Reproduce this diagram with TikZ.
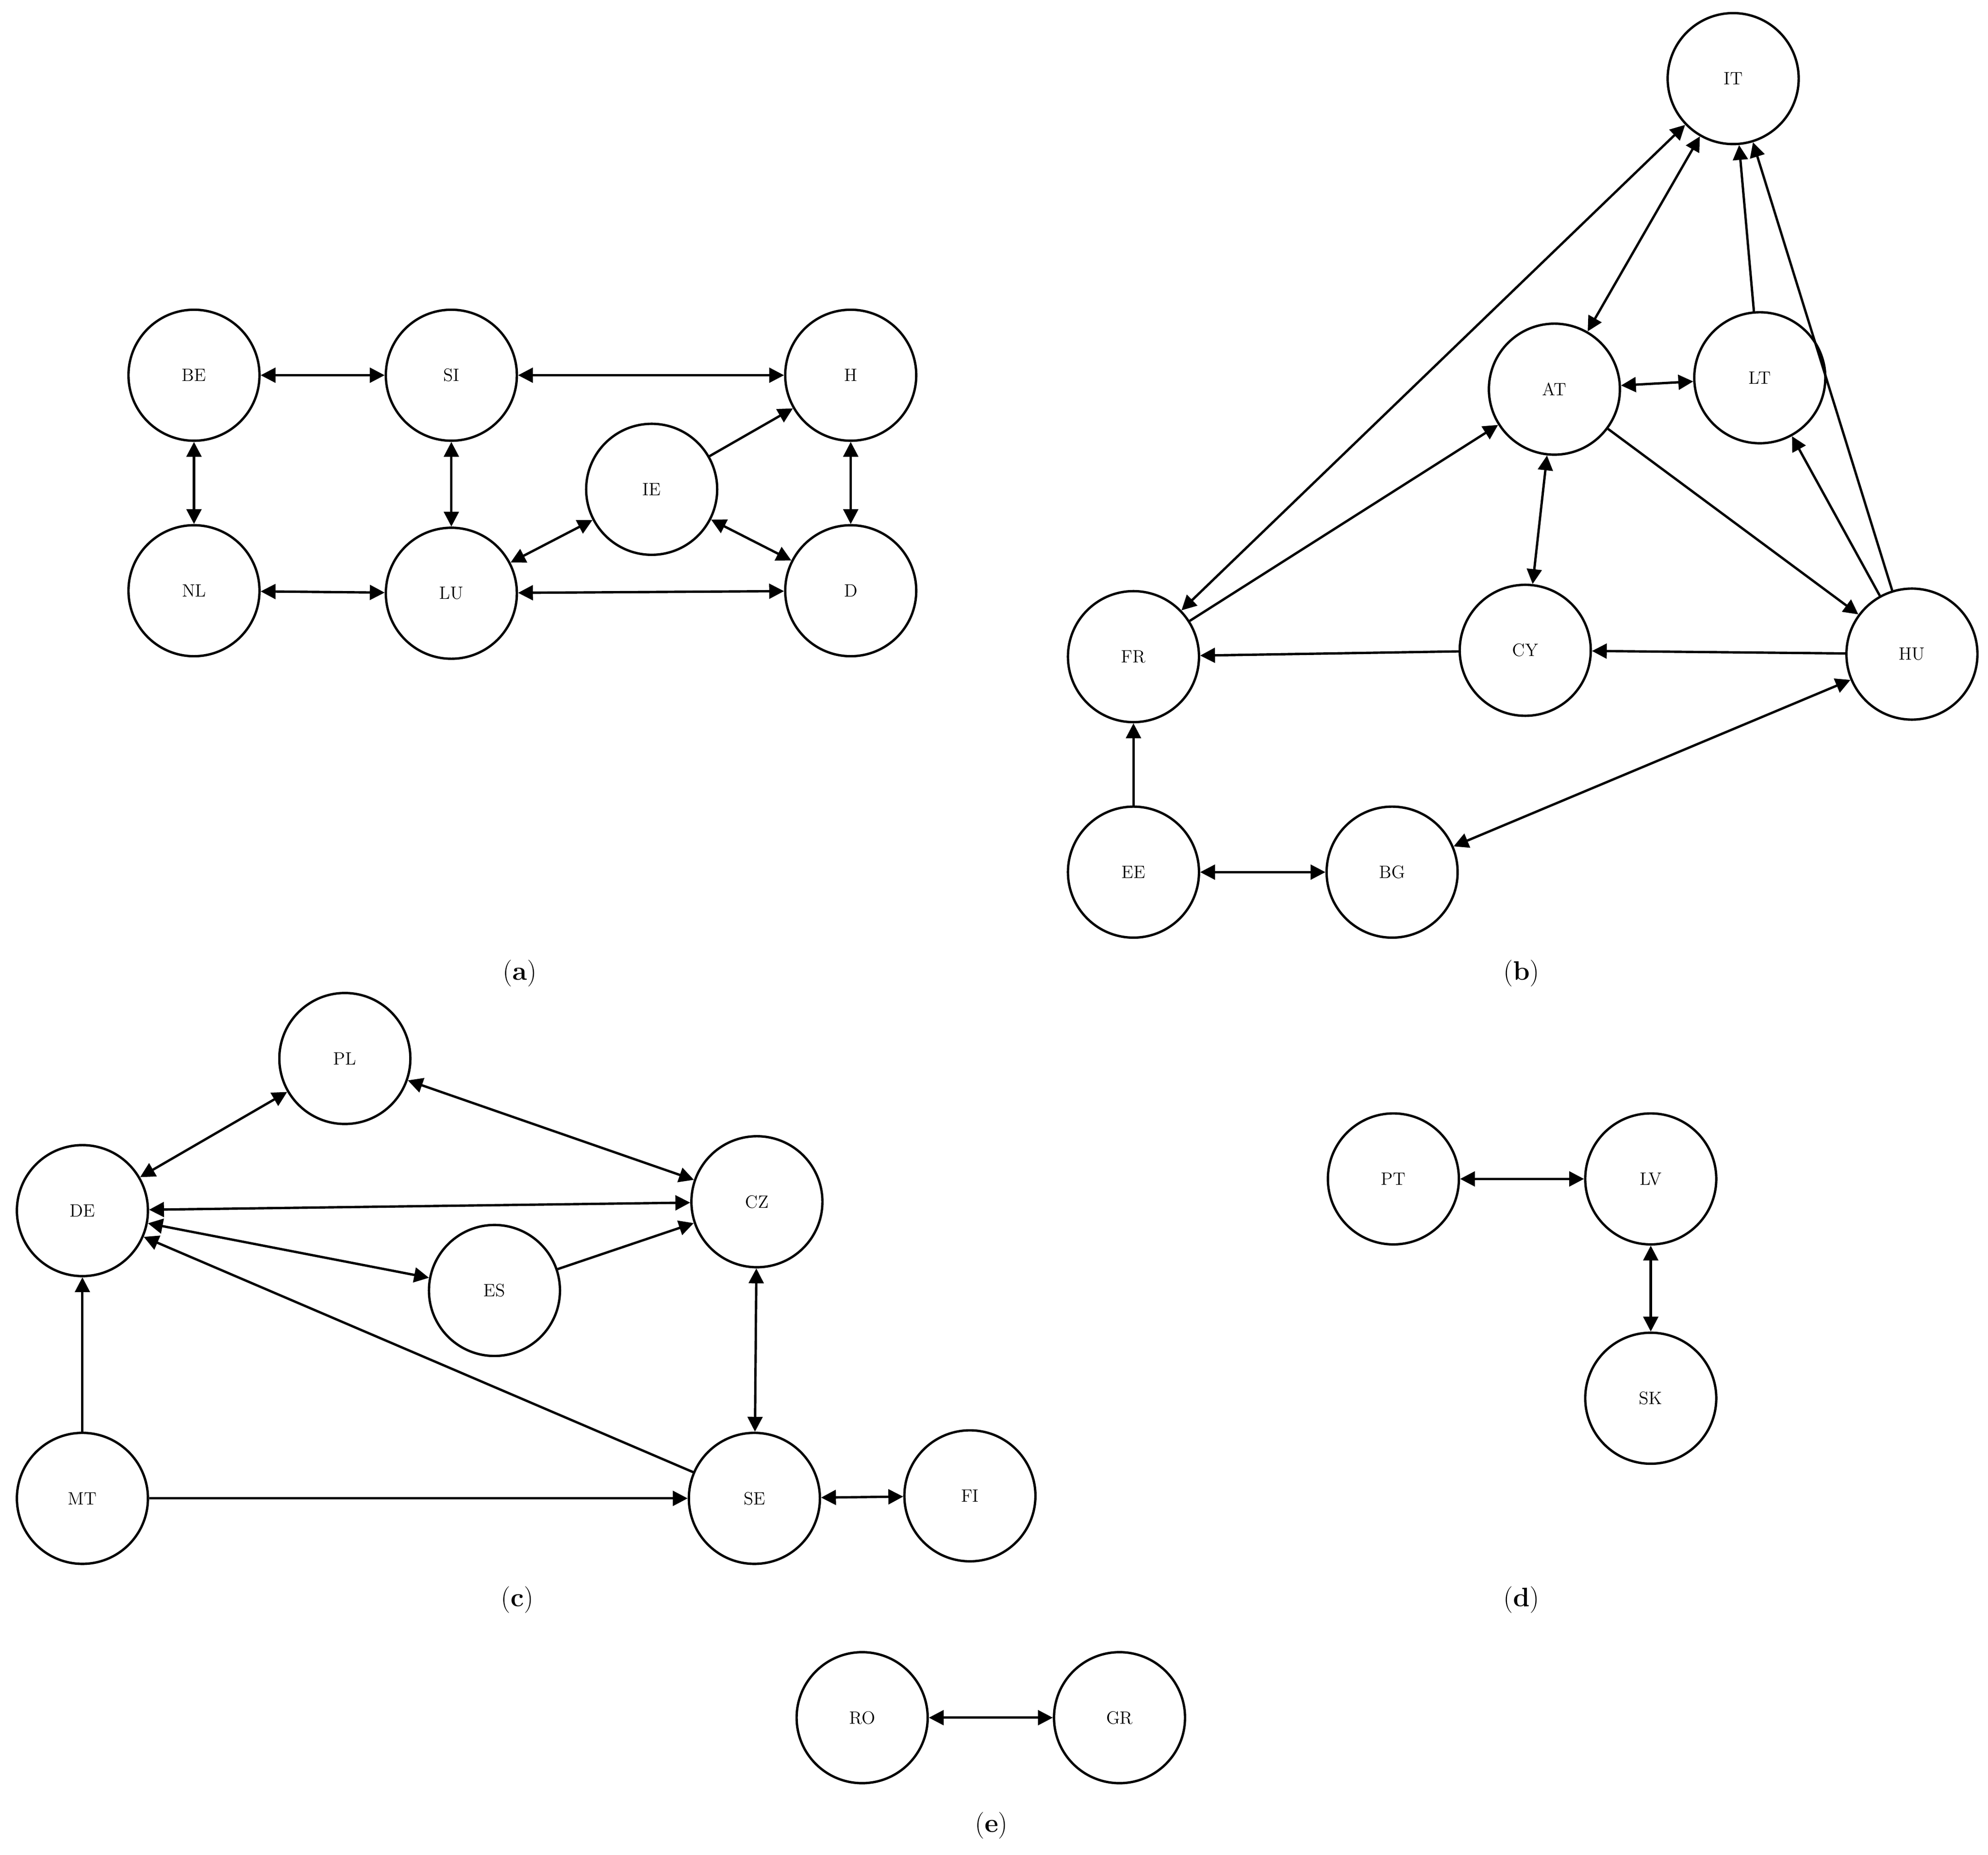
\documentclass[tikz,border=0pt]{standalone}
\usetikzlibrary{arrows.meta}
\begin{document}
\begin{tikzpicture}[x=0.03cm,y=-0.03cm,
 n/.style={circle,draw,line width=1.6pt,minimum size=3.1cm,inner sep=0pt,font=\fontsize{12}{14}\selectfont},
 e/.style={line width=1.6pt,-{Triangle[length=10pt,width=10pt]}},
 b/.style={line width=1.6pt,{Triangle[length=10pt,width=10pt]}-{Triangle[length=10pt,width=10pt]}},
 lbl/.style={font=\fontsize{18}{20}\selectfont}]
\useasboundingbox (0,0) rectangle (1568,1463);
% (a)
\node[n] (BE) at (153,296) {BE};
\node[n] (SI) at (356,296) {SI};
\node[n] (H) at (671,296) {H};
\node[n] (IE) at (514,386) {IE};
\node[n] (NL) at (153,466) {NL};
\node[n] (LU) at (356,468) {LU};
\node[n] (D) at (671,466) {D};
\draw[b] (BE)--(SI); \draw[b] (SI)--(H); \draw[b] (BE)--(NL); \draw[b] (SI)--(LU);
\draw[b] (NL)--(LU); \draw[b] (LU)--(D); \draw[b] (H)--(D); \draw[b] (LU)--(IE);
\draw[e] (IE)--(H); \draw[b] (IE)--(D);
\node[lbl] (ca) at (410,768) {(\textbf{a})};
% (b)
\node[n] (IT) at (1367,62) {IT};
\node[n] (AT) at (1226,307) {AT};
\node[n] (LT) at (1388,298) {LT};
\node[n] (FR) at (894,518) {FR};
\node[n] (CY) at (1203,513) {CY};
\node[n] (HU) at (1508,516) {HU};
\node[n] (EE) at (894,688) {EE};
\node[n] (BG) at (1098,688) {BG};
\draw[b] (FR)--(IT); \draw[b] (AT)--(IT); \draw[e] (LT)--(IT); \draw[e] (HU)--(IT);
\draw[b] (AT)--(LT); \draw[e] (FR)--(AT); \draw[e] (AT)--(HU); \draw[b] (AT)--(CY);
\draw[e] (HU)--(LT); \draw[e] (CY)--(FR); \draw[e] (HU)--(CY); \draw[e] (EE)--(FR);
\draw[b] (EE)--(BG); \draw[b] (BG)--(HU);
\node[lbl] (cb) at (1200,768) {(\textbf{b})};
% (c)
\node[n] (PL) at (272,835) {PL};
\node[n] (DE) at (65,955) {DE};
\node[n] (CZ) at (597,948) {CZ};
\node[n] (ES) at (390,1018) {ES};
\node[n] (MT) at (65,1182) {MT};
\node[n] (SE) at (595,1182) {SE};
\node[n] (FI) at (765,1180) {FI};
\draw[b] (DE)--(PL); \draw[b] (PL)--(CZ); \draw[b] (DE)--(CZ); \draw[b] (DE)--(ES);
\draw[e] (ES)--(CZ); \draw[e] (SE)--(DE); \draw[e] (MT)--(DE); \draw[e] (MT)--(SE);
\draw[b] (CZ)--(SE); \draw[b] (SE)--(FI);
\node[lbl] (cc) at (408,1262) {(\textbf{c})};
% (d)
\node[n] (PT) at (1099,930) {PT};
\node[n] (LV) at (1302,930) {LV};
\node[n] (SK) at (1302,1103) {SK};
\draw[b] (PT)--(LV); \draw[b] (LV)--(SK);
\node[lbl] (cd) at (1200,1262) {(\textbf{d})};
% (e)
\node[n] (RO) at (680,1355) {RO};
\node[n] (GR) at (883,1355) {GR};
\draw[b] (RO)--(GR);
\node[lbl] (ce) at (782,1440) {(\textbf{e})};
\end{tikzpicture}
\end{document}
